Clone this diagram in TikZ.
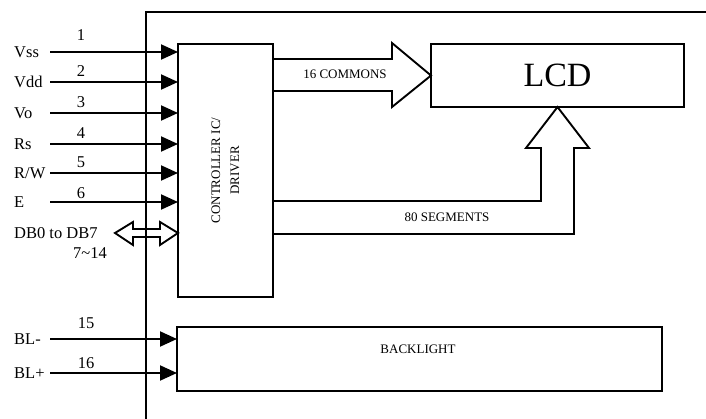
\documentclass[tikz,border=0pt]{standalone}
\usepackage{fontspec}
\setmainfont{Liberation Serif}
\usetikzlibrary{arrows.meta}
\begin{document}
\begin{tikzpicture}[x=1pt,y=-1pt,
  box/.style={draw,line width=2.3pt,inner sep=0pt,outer sep=0pt},
  pin/.style={line width=2pt,-{Triangle[length=17pt,width=15pt]}},
  lab/.style={font=\fontsize{16.5}{18}\selectfont,inner sep=0pt,anchor=west},
  num/.style={font=\fontsize{16.5}{18}\selectfont,inner sep=0pt},
  small/.style={font=\fontsize{13}{19}\selectfont,inner sep=0pt},
  fat/.style={line width=1.9pt,line join=miter},
  frame/.style={line width=2pt}]
\useasboundingbox (0,0) rectangle (706,419);
% frame
\coordinate (fl) at (146,419);
\coordinate (fc) at (146,12);
\coordinate (fr) at (706,12);
\draw[frame] (fl) -- (fc) -- (fr);
% boxes
\node[box,minimum width=95pt,minimum height=253pt] (ctrl) at (225.5,170.5) {};
\node[small,rotate=90,align=center] (ctrltxt) at (ctrl.center) {CONTROLLER IC/\\DRIVER};
\node[box,minimum width=253pt,minimum height=63pt,font=\fontsize{34}{36}\selectfont] (lcd) at (557.5,75.5) {LCD};
\node[box,minimum width=485pt,minimum height=64pt] (bl) at (419.5,359) {};
\node[small] (bltxt) at (418,349) {BACKLIGHT};
% inputs
\foreach \n/\y/\t/\ny in {1/52/Vss/35,2/82/Vdd/71,3/113/Vo/102,4/144/Rs/133,5/173/{R/W}/162,6/202/E/193}{
  \coordinate (p\n) at (50,\y);
  \draw[pin] (p\n) -- (p\n -| ctrl.west);
  \node[lab] (l\n) at (14,\y) {\t};
  \node[num] (n\n) at (81,\ny) {\n};
}
% backlight inputs
\coordinate (p15) at (50,339);
\coordinate (p16) at (50,373);
\draw[pin] (p15) -- (p15 -| bl.west);
\draw[pin] (p16) -- (p16 -| bl.west);
\node[lab] (l15) at (14,339) {BL-};
\node[lab] (l16) at (14,373) {BL+};
\node[num] (n15) at (86,323) {15};
\node[num] (n16) at (86,363) {16};
% data bus
\node[lab] (ldb) at (14,233) {DB0 to DB7};
\node[lab] (ndb) at (73,253) {7\textasciitilde14};
\draw[fat] (115,233) -- (133,222) -- (133,229) -- (160,229) -- (160,222) -- (178,233)
  -- (160,245) -- (160,237) -- (133,237) -- (133,245) -- cycle;
% 16 commons
\draw[fat] (ctrl.east |- 0,59) -- (392,59) -- (392,43) -- (lcd.west) -- (392,107) -- (392,91) -- (ctrl.east |- 0,91);
\node[small] (com) at (345,74) {16 COMMONS};
% 80 segments
\draw[fat] (ctrl.east |- 0,201) -- (541,201) -- (541,148) -- (526,148) -- (lcd.south) -- (589,148)
  -- (574,148) -- (574,234) -- (ctrl.east |- 0,234);
\node[small] (seg) at (447,217) {80 SEGMENTS};
\end{tikzpicture}
\end{document}
